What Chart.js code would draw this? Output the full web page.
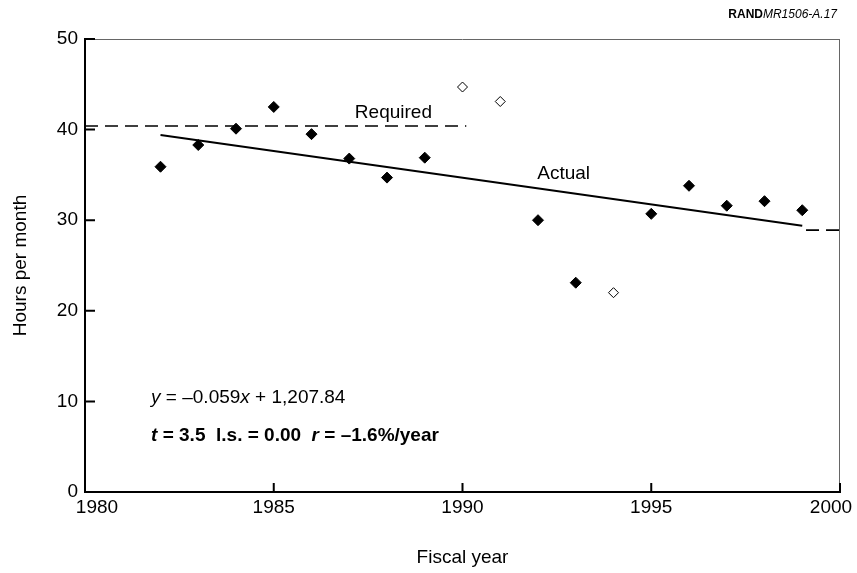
<!DOCTYPE html>
<html>
<head>
<meta charset="utf-8">
<script src="https://cdn.jsdelivr.net/npm/chart.js@4.4.1/dist/chart.umd.min.js"></script>
<style>
  html, body { margin: 0; padding: 0; background: #fff; }
  #wrap { width: 857px; height: 573px; position: relative; }
</style>
</head>
<body>
<div id="wrap"><canvas id="chart" width="857" height="573"></canvas></div>
<script>
// fiscal years and hours flown per month
const years = [1982, 1983, 1984, 1985, 1986, 1987, 1988, 1989, 1990, 1991, 1992, 1993, 1994, 1995, 1996, 1997, 1998, 1999];
const hours = [35.9, 38.3, 40.1, 42.5, 39.5, 36.8, 34.7, 36.9, 44.7, 43.1, 30.0, 23.1, 22.0, 30.7, 33.8, 31.6, 32.1, 31.1];
const openYears = [1990, 1991, 1994]; // drawn as hollow diamonds

// required level (dashed) and fitted trend (solid)
const requiredX = [1980, 1990.1];
const requiredY = [40.4, 40.4];
const requiredEndX = [1999.1, 2000];
const requiredEndY = [28.9, 28.9];
const trendX = [1982, 1999];
const trendY = [39.4, 29.4];

const xTicks = [1980, 1985, 1990, 1995, 2000];
const yTicks = [0, 10, 20, 30, 40, 50];

const FONT = '"Liberation Sans", Arial, Helvetica, sans-serif';

const pts = (xs, ys) => xs.map((x, i) => ({ x: x, y: ys[i] }));
const filled = years.map((y, i) => ({ x: y, y: hours[i] })).filter(p => !openYears.includes(p.x));
const hollow = years.map((y, i) => ({ x: y, y: hours[i] })).filter(p => openYears.includes(p.x));

// inward ticks, x labels, thin top/right frame and the text notes
const decor = {
  id: 'decor',
  afterDraw(chart) {
    const ctx = chart.ctx;
    const { left, right, top, bottom } = chart.chartArea;
    const xs = chart.scales.x, ys = chart.scales.y;
    ctx.save();
    ctx.strokeStyle = '#666';
    ctx.lineWidth = 1;
    ctx.beginPath();
    ctx.moveTo(left, top + 0.5); ctx.lineTo(right, top + 0.5);
    ctx.moveTo(right - 0.5, top); ctx.lineTo(right - 0.5, bottom);
    ctx.stroke();

    ctx.strokeStyle = '#000';
    ctx.lineWidth = 2;
    ctx.beginPath();
    yTicks.forEach(v => {
      const py = ys.getPixelForValue(v);
      ctx.moveTo(left, py); ctx.lineTo(left + 10, py);
    });
    xTicks.forEach(v => {
      const px = xs.getPixelForValue(v);
      ctx.moveTo(px, bottom); ctx.lineTo(px, bottom - 9);
    });
    ctx.stroke();

    ctx.fillStyle = '#000';
    ctx.font = '19px ' + FONT;
    ctx.textAlign = 'center';
    ctx.textBaseline = 'top';
    // end labels sit a little inside the frame, as in the original
    xTicks.forEach((v, i) => {
      let px = xs.getPixelForValue(v);
      if (i === 0) px += 12;
      if (i === xTicks.length - 1) px -= 9;
      ctx.fillText(String(v), px, bottom + 6);
    });

    ctx.textBaseline = 'middle';
    ctx.fillText('Required', xs.getPixelForValue(1988.17), ys.getPixelForValue(41.9));
    ctx.fillText('Actual', xs.getPixelForValue(1992.68), ys.getPixelForValue(35.1));

    // mixed style lines: [text, font]
    const drawRuns = (runs, x, y) => {
      ctx.textAlign = 'left';
      runs.forEach(r => {
        ctx.font = r[1] + ' 19px ' + FONT;
        ctx.fillText(r[0], x, y);
        x += ctx.measureText(r[0]).width;
      });
    };
    const ex = xs.getPixelForValue(1981.75);
    drawRuns([['y', 'italic'], [' = \u20130.059', 'normal'], ['x', 'italic'], [' + 1,207.84', 'normal']],
      ex, ys.getPixelForValue(10.4));
    drawRuns([['t', 'italic bold'], [' = 3.5  l.s. = 0.00  ', 'bold'], ['r', 'italic bold'], [' = \u20131.6%/year', 'bold']],
      ex, ys.getPixelForValue(6.2));

    // figure id in the corner
    ctx.textAlign = 'left';
    ctx.font = 'italic 12px ' + FONT;
    const idTxt = 'MR1506-A.17';
    const w2 = ctx.measureText(idTxt).width;
    ctx.font = 'bold 12px ' + FONT;
    const w1 = ctx.measureText('RAND').width;
    const sx = 837 - w1 - w2;
    ctx.fillText('RAND', sx, 15);
    ctx.font = 'italic 12px ' + FONT;
    ctx.fillText(idTxt, sx + w1, 15);
    ctx.restore();
  }
};

new Chart(document.getElementById('chart'), {
  type: 'scatter',
  data: {
    datasets: [
      {
        label: 'Required',
        data: pts(requiredX, requiredY),
        showLine: true,
        borderColor: '#000',
        borderWidth: 1.6,
        borderDash: [13, 7],
        pointRadius: 0,
      },
      {
        label: 'Required (2000)',
        data: pts(requiredEndX, requiredEndY),
        showLine: true,
        borderColor: '#000',
        borderWidth: 1.6,
        borderDash: [13, 7],
        pointRadius: 0,
      },
      {
        label: 'Actual trend',
        data: pts(trendX, trendY),
        showLine: true,
        borderColor: '#000',
        borderWidth: 2,
        pointRadius: 0,
      },
      {
        label: 'Hours',
        data: filled,
        pointStyle: 'rectRot',
        pointRadius: 5.5,
        backgroundColor: '#000',
        borderColor: '#000',
        borderWidth: 1,
      },
      {
        label: 'Hours (hollow)',
        data: hollow,
        pointStyle: 'rectRot',
        pointRadius: 5,
        backgroundColor: '#fff',
        borderColor: '#000',
        borderWidth: 1,
      },
    ],
  },
  options: {
    responsive: false,
    animation: false,
    events: [],
    layout: { padding: { top: 39, right: 17, left: 0, bottom: 0 } },
    plugins: {
      legend: { display: false },
      tooltip: { enabled: false },
    },
    scales: {
      x: {
        type: 'linear',
        min: 1980,
        max: 2000,
        afterFit(scale) {
          scale.height = 81;
          scale.paddingLeft = 0;
          scale.paddingRight = 0;
        },
        afterBuildTicks(scale) { scale.ticks = xTicks.map(v => ({ value: v })); },
        grid: { display: false, tickLength: 0 },
        border: { display: true, color: '#000', width: 2 },
        ticks: { display: false },
        title: {
          display: true,
          text: 'Fiscal year',
          color: '#000',
          font: { family: FONT, size: 19 },
          padding: { top: 0, bottom: 4 },
        },
      },
      y: {
        min: 0,
        max: 50,
        afterFit(scale) { scale.width = 85; },
        afterBuildTicks(scale) { scale.ticks = yTicks.map(v => ({ value: v })); },
        grid: { display: false, tickLength: 0 },
        border: { display: true, color: '#000', width: 2 },
        ticks: {
          color: '#000',
          font: { family: FONT, size: 19 },
          padding: 7,
        },
        title: {
          display: true,
          text: 'Hours per month',
          color: '#000',
          font: { family: FONT, size: 19 },
          padding: { top: 9, bottom: 0 },
        },
      },
    },
  },
  plugins: [decor],
});
</script>
</body>
</html>
